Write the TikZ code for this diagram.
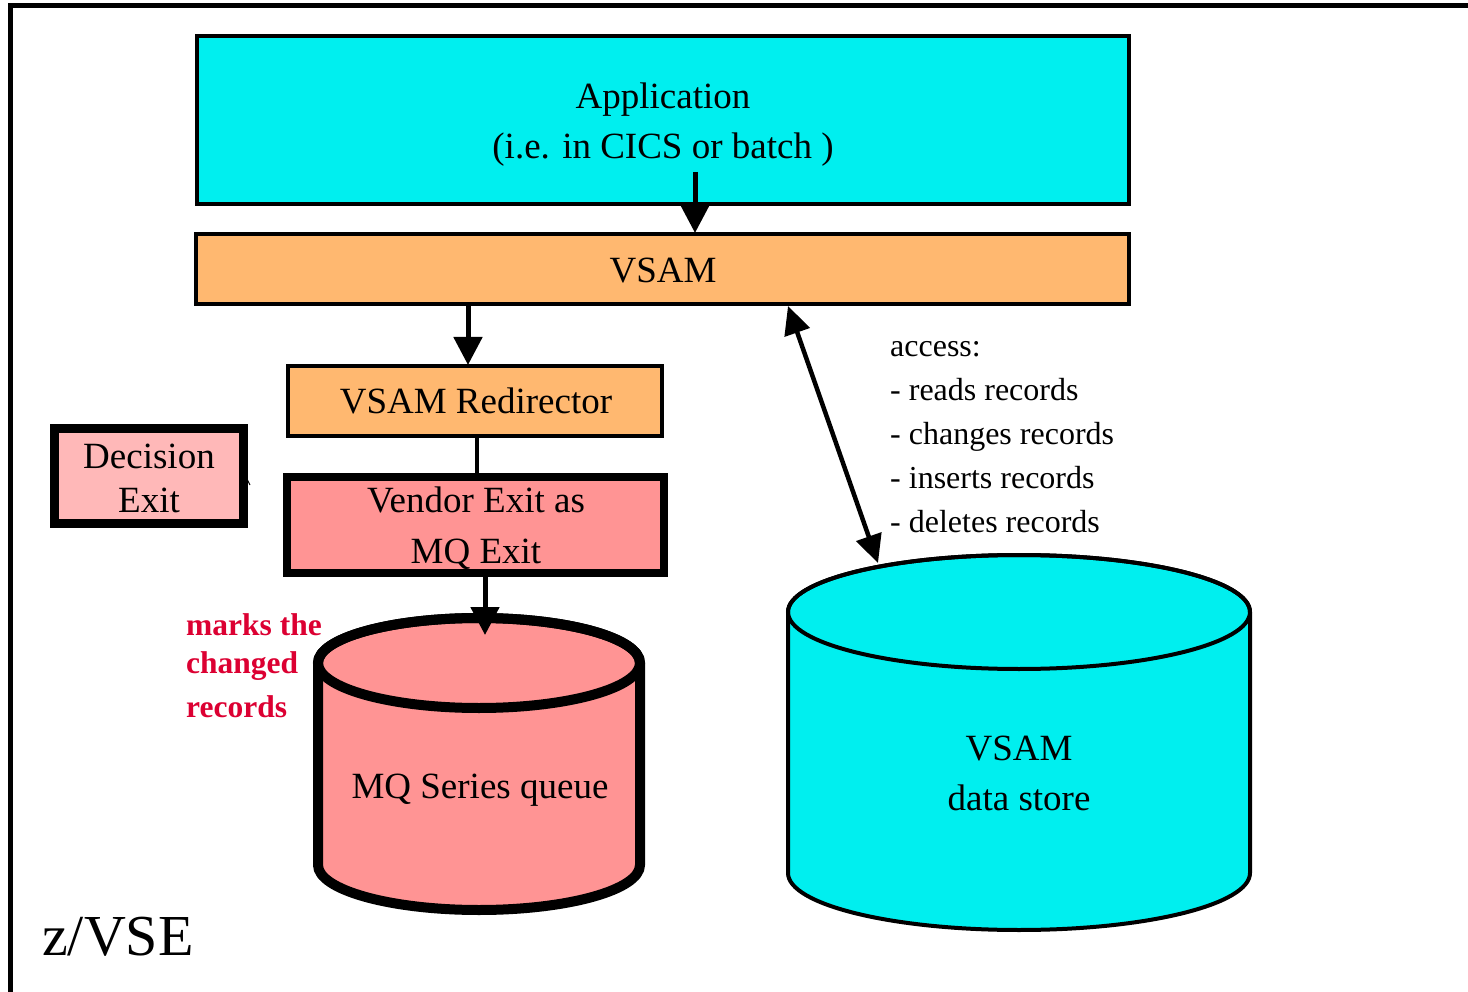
\documentclass[tikz,border=0pt]{standalone}
\usepackage{fontspec}
\setmainfont{Liberation Serif}
\usetikzlibrary{arrows.meta}
\definecolor{appcyan}{RGB}{0,239,239}
\definecolor{vsamorange}{RGB}{255,184,112}
\definecolor{vendorpink}{RGB}{255,148,148}
\definecolor{decpink}{RGB}{255,184,184}
\definecolor{markred}{RGB}{220,0,50}
\tikzset{
  box/.style={draw=black, rectangle, inner sep=0pt},
  txt/.style={inner sep=0pt, anchor=base, font=\fontsize{37}{51}\selectfont},
  acc/.style={inner sep=0pt, anchor=base west, font=\fontsize{32}{44}\selectfont},
  redlabel/.style={inner sep=0pt, anchor=base west, text=markred, font=\fontsize{31.5}{40}\selectfont\bfseries},
  arr/.style={line width=5pt, -{Triangle[length=28pt,width=28pt]}},
  darr/.style={line width=4.5pt, {Triangle[length=28pt,width=26pt]}-{Triangle[length=28pt,width=26pt]}},
}
\begin{document}
\begin{tikzpicture}[x=1pt,y=1pt]
\useasboundingbox (0,0) rectangle (1468,-992);
\clip (0,0) rectangle (1468,-992);
\fill[white] (0,0) rectangle (1468,-992);
% outer frame
\draw[line width=4.8pt] (10.5,-1100) -- (10.5,-5.8) -- (1600,-5.8);

% boxes
\node[box, fill=appcyan, line width=4pt, minimum width=932pt, minimum height=168pt] (app) at (663,-120) {};
\node[txt] (appt1) at (663,-109) {Application};
\node[txt] (appt2) at (663,-159) {(i.e. in CICS or batch )};

\node[box, fill=vsamorange, line width=4pt, minimum width=933pt, minimum height=70pt] (vsam) at (662.5,-269) {};
\node[txt] (vsamt) at (663,-283) {VSAM};

\node[box, fill=vsamorange, line width=4pt, minimum width=374pt, minimum height=70pt] (redir) at (475,-401) {};
\node[txt] (redirt) at (476,-413.5) {VSAM Redirector};

\node[box, fill=vendorpink, line width=8pt, minimum width=377pt, minimum height=96pt] (vendor) at (475.5,-525) {};
\node[txt] (vendort1) at (476,-512.5) {Vendor Exit as};
\node[txt] (vendort2) at (476,-563) {MQ Exit};

\node[box, fill=decpink, line width=9pt, minimum width=189pt, minimum height=95pt] (dec) at (149,-476) {};
\node[txt] (dect1) at (149,-468) {Decision};
\node[txt] (dect2) at (149,-512) {Exit};

% MQ cylinder
\filldraw[fill=vendorpink, line width=10pt] (318,-663) -- (318,-865) arc[start angle=180,end angle=360,x radius=161,y radius=45] -- (640,-663) arc[start angle=0,end angle=180,x radius=161,y radius=45] -- cycle;
\draw[line width=10pt] (479,-663) ellipse[x radius=161,y radius=45];
\node[txt] (mq) at (480,-798) {MQ Series queue};

% VSAM data store cylinder
\filldraw[fill=appcyan, line width=4pt] (788,-612) -- (788,-873) arc[start angle=180,end angle=360,x radius=231,y radius=57] -- (1250,-612) arc[start angle=0,end angle=180,x radius=231,y radius=57] -- cycle;
\draw[line width=4pt] (1019,-612) ellipse[x radius=231,y radius=57];
\node[txt] (dst1) at (1019,-760) {VSAM};
\node[txt] (dst2) at (1019,-810) {data store};

% connector coordinates
\coordinate (appsrc) at (695,-172);
\coordinate (vsamin) at (695,-233);
\coordinate (vsamout) at (468,-305);
\coordinate (redirin) at (468,-365);
\coordinate (redirout) at (477,-437);
\coordinate (vendorin) at (477,-475);
\coordinate (vendorout) at (485,-577);
\coordinate (mqin) at (485,-635);
\coordinate (vsamacc) at (788,-306);
\coordinate (dsacc) at (878,-563);
\coordinate (tickA) at (245,-475);
\coordinate (tickB) at (250,-485);

\draw[arr] (appsrc) -- (vsamin);
\draw[arr] (vsamout) -- (redirin);
\draw[line width=4pt] (redirout) -- (vendorin);
\draw[arr] (vendorout) -- (mqin);
\draw[darr] (vsamacc) -- (dsacc);
\draw[line width=1pt] (tickA) -- (tickB);

% access text
\node[acc] (a0) at (890,-357) {access:};
\node[acc] (a1) at (890,-400.5) {- reads records};
\node[acc] (a2) at (890,-444.5) {- changes records};
\node[acc] (a3) at (890,-488.5) {- inserts records};
\node[acc] (a4) at (890,-532.5) {- deletes records};

% marks text
\node[redlabel] (m1) at (186,-635) {marks the};
\node[redlabel] (m2) at (186,-673) {changed};
\node[redlabel] (m3) at (186,-717) {records};

% z/VSE
\node[inner sep=0pt, anchor=base west, font=\fontsize{58}{60}\selectfont] (zvse) at (42,-955) {z/VSE};
\end{tikzpicture}
\end{document}
